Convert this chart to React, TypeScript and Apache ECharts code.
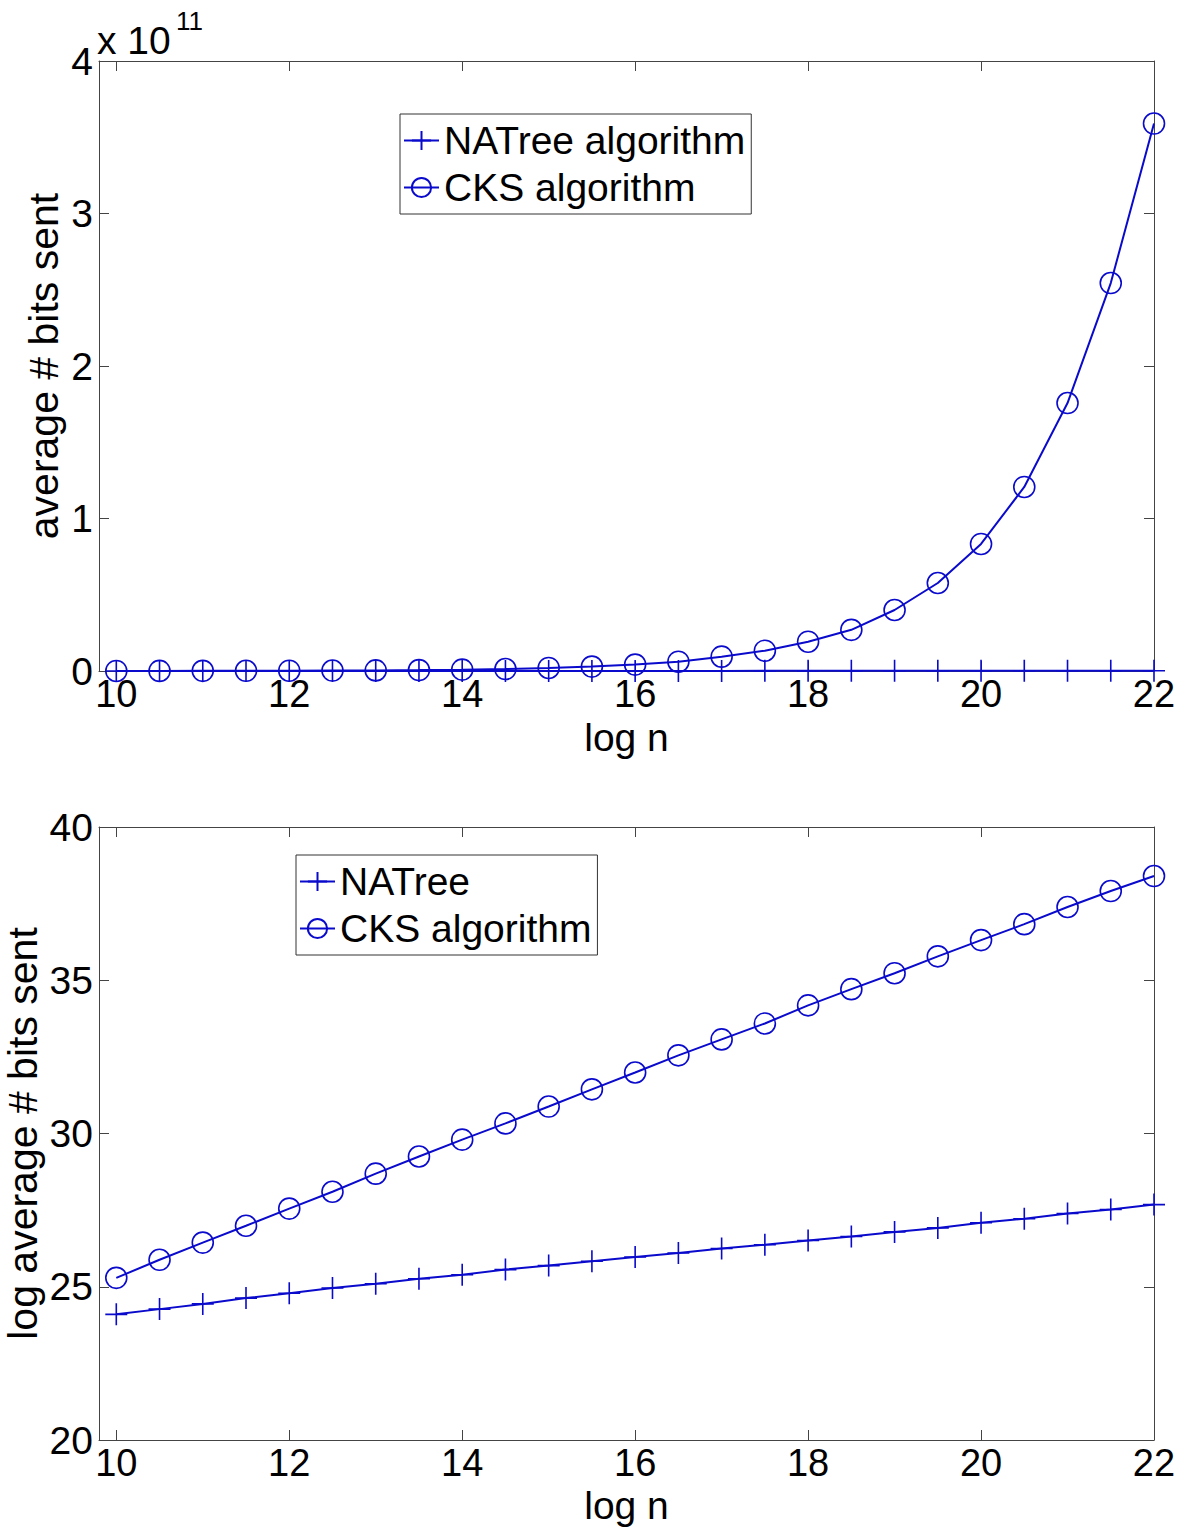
import React, { useEffect, useRef } from "react";
import * as echarts from "echarts";

const logN = [10, 10.5, 11, 11.5, 12, 12.5, 13, 13.5, 14, 14.5, 15, 15.5, 16, 16.5, 17, 17.5, 18, 18.5, 19, 19.5, 20, 20.5, 21, 21.5, 22];
const xTicks = [10, 12, 14, 16, 18, 20, 22];

// Top chart: average # bits sent, in units of 1e11
const natreeAvg = [0.00018, 0.0002, 0.00023, 0.00026, 0.00029, 0.00033, 0.00036, 0.0004, 0.00044, 0.00049, 0.00054, 0.00059, 0.00066, 0.00072, 0.0008, 0.00087, 0.00096, 0.00105, 0.00116, 0.00127, 0.0014, 0.00156, 0.00176, 0.00193, 0.0021];
const cksAvg = [0.0004, 0.0006, 0.0009, 0.0013, 0.002, 0.003, 0.004, 0.006, 0.009, 0.013, 0.02, 0.029, 0.042, 0.061, 0.094, 0.133, 0.192, 0.27, 0.4, 0.577, 0.833, 1.207, 1.757, 2.544, 3.59];

// Bottom chart: log average # bits sent
const natreeLog = [24.1, 24.27, 24.44, 24.63, 24.79, 24.96, 25.1, 25.26, 25.39, 25.56, 25.69, 25.83, 25.97, 26.1, 26.25, 26.37, 26.51, 26.64, 26.79, 26.92, 27.09, 27.22, 27.39, 27.52, 27.68];
const cksLog = [25.29, 25.88, 26.44, 26.99, 27.55, 28.1, 28.69, 29.25, 29.8, 30.33, 30.88, 31.44, 31.99, 32.55, 33.07, 33.59, 34.18, 34.71, 35.23, 35.78, 36.31, 36.83, 37.39, 37.91, 38.4];

const BLUE = "#0a0acc";
const AXIS = "#444";
const FONT = "Liberation Sans, Arial, sans-serif";
const PLUS = "path://M10,0 L10,20 M0,10 L20,10";
const CIRCLE = "path://M20,10 A10,10 0 1,1 0,10 A10,10 0 1,1 20,10 Z";

function pairs(ys: number[]) {
  return logN.map((x, i) => [x, ys[i]]);
}

function xAxes(gridIndex: number, nameGap: number) {
  const common = {
    type: "value" as const,
    gridIndex,
    min: 9.8,
    max: 22,
    splitLine: { show: false },
    axisLine: { show: true, onZero: false, lineStyle: { color: AXIS, width: 1 } },
  };
  return [
    {
      ...common,
      position: "bottom",
      name: "log n",
      nameLocation: "middle",
      nameGap,
      nameMoveOverlap: false,
      nameTextStyle: { fontSize: 39, color: "#000", fontFamily: FONT, lineHeight: 39 },
      axisTick: { show: true, inside: true, length: 10, customValues: xTicks, lineStyle: { color: AXIS } },
      axisLabel: { show: true, customValues: xTicks, margin: 8, fontSize: 38, lineHeight: 30, color: "#000", fontFamily: FONT },
    },
    {
      ...common,
      position: "top",
      axisTick: { show: true, inside: true, length: 10, customValues: xTicks, lineStyle: { color: AXIS } },
      axisLabel: { show: false },
    },
  ];
}

function yAxes(gridIndex: number, min: number, max: number, interval: number, name: string, nameGap: number, nameSize: number) {
  const common = {
    type: "value" as const,
    gridIndex,
    min,
    max,
    interval,
    splitLine: { show: false },
    axisLine: { show: true, onZero: false, lineStyle: { color: AXIS, width: 1 } },
    axisTick: { show: true, inside: true, length: 10, lineStyle: { color: AXIS } },
  };
  return [
    {
      ...common,
      position: "left",
      name,
      nameLocation: "middle",
      nameGap,
      nameMoveOverlap: false,
      nameTextStyle: { fontSize: nameSize, color: "#000", fontFamily: FONT, lineHeight: nameSize },
      axisLabel: { show: true, margin: 6, fontSize: 39, color: "#000", fontFamily: FONT },
    },
    {
      ...common,
      position: "right",
      axisLabel: { show: false },
    },
  ];
}

function natreeSeries(name: string, ys: number[], xi: number, yi: number) {
  return {
    type: "line",
    name,
    xAxisIndex: xi,
    yAxisIndex: yi,
    data: pairs(ys),
    symbol: PLUS,
    symbolSize: 22,
    showAllSymbol: true,
    lineStyle: { color: BLUE, width: 2 },
    itemStyle: { color: BLUE, borderColor: BLUE, borderWidth: 1.6 },
    emphasis: { disabled: true },
  };
}

function cksSeries(name: string, ys: number[], xi: number, yi: number) {
  return {
    type: "line",
    name,
    xAxisIndex: xi,
    yAxisIndex: yi,
    data: pairs(ys),
    symbol: CIRCLE,
    symbolSize: 21,
    showAllSymbol: true,
    lineStyle: { color: BLUE, width: 2 },
    itemStyle: { color: "rgba(0,0,0,0)", borderColor: BLUE, borderWidth: 1.6 },
    emphasis: { disabled: true },
  };
}

function legendStyle(left: number, top: number, data: string[]) {
  return {
    left,
    top,
    orient: "vertical",
    data,
    itemWidth: 35,
    itemHeight: 24,
    itemGap: 8,
    padding: [7, 6, 7, 3],
    borderColor: "#333",
    borderWidth: 1,
    backgroundColor: "#fff",
    selectedMode: false,
    textStyle: { fontSize: 39, color: "#000", fontFamily: FONT },
  };
}

export default function App() {
  const ref = useRef<HTMLDivElement>(null);
  useEffect(() => {
    if (!ref.current) return;
    const chart = echarts.init(ref.current, null, { renderer: "svg" });
    const option: any = {
      animation: false,
      backgroundColor: "#fff",
      grid: [
        { left: 99, top: 61, width: 1055, height: 610, containLabel: false, outerBoundsMode: "none" },
        { left: 99, top: 827, width: 1055, height: 613, containLabel: false, outerBoundsMode: "none" },
      ],
      xAxis: [...xAxes(0, 47), ...xAxes(1, 46)],
      yAxis: [
        ...yAxes(0, 0, 4, 1, "average # bits sent", 35, 41),
        ...yAxes(1, 20, 40, 5, "log average # bits sent", 56, 41),
      ],
      legend: [
        legendStyle(400, 114, ["NATree algorithm", "CKS algorithm"]),
        legendStyle(296, 855, ["NATree", "CKS algorithm"]),
      ],
      series: [
        natreeSeries("NATree algorithm", natreeAvg, 0, 0),
        cksSeries("CKS algorithm", cksAvg, 0, 0),
        natreeSeries("NATree", natreeLog, 2, 2),
        cksSeries("CKS algorithm", cksLog, 2, 2),
      ],
      graphic: [
        {
          type: "text",
          left: 97,
          top: 21,
          style: { text: "x 10", font: `39px ${FONT}`, fill: "#000" },
        },
        {
          type: "text",
          left: 176,
          top: 8,
          style: { text: "11", font: `26px ${FONT}`, fill: "#000" },
        },
      ],
    };
    chart.setOption(option);
    return () => chart.dispose();
  }, []);
  return (
    <div
      ref={ref}
      style={{ position: "absolute", left: 0, top: 0, width: 1189, height: 1528 }}
    />
  );
}
